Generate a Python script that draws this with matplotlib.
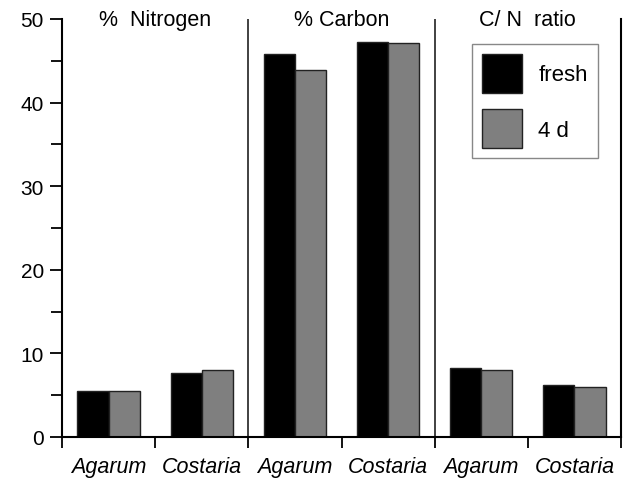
import numpy as np
import matplotlib
matplotlib.use("Agg")
import matplotlib.pyplot as plt
from matplotlib.patches import Patch

plt.rcParams['font.family'] = ['Liberation Sans', 'DejaVu Sans']

# values per panel: Agarum, Costaria
groups = ['%  Nitrogen', '% Carbon', 'C/ N  ratio']
species = ['Agarum', 'Costaria']
fresh = [5.5, 7.6, 45.8, 47.3, 8.3, 6.2]
four_d = [5.5, 8.0, 43.9, 47.1, 8.05, 5.95]
series_names = ['fresh', '4 d']

fig = plt.figure(figsize=(6.24, 4.85), dpi=100)
ax = fig.add_axes([62 / 624, 47 / 485, 559 / 624, 418 / 485])

x = np.arange(len(fresh)) + 0.5
w = 0.335
ax.bar(x - w / 2, fresh, w, color='black', edgecolor='#222222', linewidth=1.0)
ax.bar(x + w / 2, four_d, w, color='#7f7f7f', edgecolor='#222222', linewidth=1.0)

ax.set_xlim(0, 6)
ax.set_ylim(0, 50)

# panel dividers
for xs in (2, 4):
    ax.axvline(xs, color='#333333', linewidth=1.3)

ax.spines['top'].set_visible(False)
for s in ('left', 'bottom', 'right'):
    ax.spines[s].set_linewidth(1.5)

ax.set_yticks(np.arange(0, 51, 10))
ax.set_yticks(np.arange(5, 50, 10), minor=True)
ax.tick_params(axis='y', which='major', length=9, width=1.3, labelsize=15, pad=4)
ax.tick_params(axis='y', which='minor', length=8, width=1.3)

ax.set_xticks(np.arange(0, 7))
ax.set_xticklabels([])
ax.set_xticks(x, minor=True)
ax.set_xticklabels(species * 3, minor=True, style='italic', fontsize=15.5)
ax.tick_params(axis='x', which='major', length=8, width=1.3)
ax.tick_params(axis='x', which='minor', length=0, pad=14)

for i, g in enumerate(groups):
    ax.text(2 * i + 1, 49.9, g, ha='center', va='center', fontsize=15.5)

handles = [Patch(facecolor='black', edgecolor='#222222'),
           Patch(facecolor='#7f7f7f', edgecolor='#222222')]
leg = ax.legend(handles, series_names, loc='upper left', bbox_to_anchor=(0.733, 0.94),
                borderaxespad=0, fontsize=16, handlelength=1.8, handleheight=2.3,
                labelspacing=0.75, handletextpad=0.75, borderpad=0.45,
                fancybox=False, framealpha=1, edgecolor='#888888')
leg.get_frame().set_linewidth(1.0)

fig.savefig('out.png', dpi=100)
